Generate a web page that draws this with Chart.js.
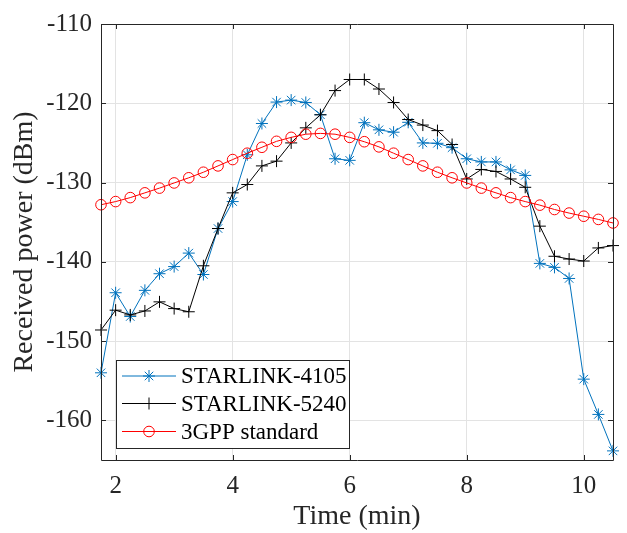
<!DOCTYPE html>
<html>
<head>
<meta charset="utf-8">
<script src="https://cdn.jsdelivr.net/npm/chart.js@4/dist/chart.umd.min.js"></script>
<style>
  html, body { margin: 0; padding: 0; background: #fff; }
  #wrap { width: 627px; height: 533px; }
</style>
</head>
<body>
<div id="wrap"><canvas id="rxChart" width="627" height="533"></canvas></div>
<script>
// time axis (min), one sample every 15 s
const timeMin = [1.75, 2.0, 2.25, 2.5, 2.75, 3.0, 3.25, 3.5, 3.75, 4.0, 4.25, 4.5,
  4.75, 5.0, 5.25, 5.5, 5.75, 6.0, 6.25, 6.5, 6.75, 7.0, 7.25, 7.5,
  7.75, 8.0, 8.25, 8.5, 8.75, 9.0, 9.25, 9.5, 9.75, 10.0, 10.25, 10.5];

const starlink4105 = [-154.0, -143.9, -146.9, -143.6, -141.5, -140.6, -138.9, -141.6, -135.8, -132.4, -126.5, -122.55,
  -119.85, -119.6, -119.9, -121.45, -127.0, -127.2, -122.45, -123.35, -123.65, -122.4, -125.0, -125.05,
  -125.6, -127.0, -127.4, -127.4, -128.4, -129.1, -140.2, -140.7, -142.1, -154.8, -159.25, -163.85];

const starlink5240 = [-148.6, -146.1, -146.7, -146.2, -145.05, -145.9, -146.3, -140.5, -135.8, -131.3, -130.25, -127.9,
  -127.3, -125.0, -123.1, -121.45, -118.4, -117.0, -117.0, -118.2, -119.9, -122.05, -122.75, -123.45,
  -125.2, -129.55, -128.35, -128.6, -129.55, -130.6, -135.5, -139.3, -139.65, -139.9, -138.25, -137.95];

const gppStandard = [-132.8, -132.4, -131.9, -131.3, -130.7, -130.05, -129.4, -128.7, -127.9, -127.1, -126.3, -125.55,
  -124.8, -124.3, -123.9, -123.8, -123.9, -124.3, -124.85, -125.5, -126.3, -127.1, -127.9, -128.7,
  -129.4, -130.05, -130.7, -131.3, -131.9, -132.4, -132.85, -133.4, -133.85, -134.25, -134.65, -135.1];

const seriesNames = ['STARLINK-4105', 'STARLINK-5240', '3GPP standard'];
const xTicks = [2, 4, 6, 8, 10];
const yTicks = [-160, -150, -140, -130, -120, -110];

const SERIF = "'Liberation Serif', 'Times New Roman', serif";
const AXIS_COLOR = '#262626';
const GRID_COLOR = '#e3e3e3';

Chart.defaults.font.family = SERIF;
Chart.defaults.color = AXIS_COLOR;

const toPts = arr => arr.map((v, i) => ({ x: timeMin[i], y: v }));

function drawMarker(ctx, style, x, y, r) {
    ctx.beginPath();
    if (style === 'circle') {
        ctx.arc(x, y, r, 0, Math.PI * 2);
    } else {
        ctx.moveTo(x - r, y); ctx.lineTo(x + r, y);
        ctx.moveTo(x, y - r); ctx.lineTo(x, y + r);
        if (style === 'star') {
            const d = r * Math.cos(Math.PI / 4);
            ctx.moveTo(x - d, y - d); ctx.lineTo(x + d, y + d);
            ctx.moveTo(x - d, y + d); ctx.lineTo(x + d, y - d);
        }
    }
    ctx.stroke();
}

// matlab-ish box with inward ticks + legend inside the axes
const axesBox = {
    id: 'axesBox',
    afterDatasetsDraw(chart) {
        const { ctx, chartArea: a, scales } = chart;
        const tl = 5;
        ctx.save();
        ctx.strokeStyle = AXIS_COLOR;
        ctx.lineWidth = 1;
        ctx.beginPath();
        ctx.rect(Math.round(a.left) + 0.5, Math.round(a.top) + 0.5, Math.round(a.right - a.left), Math.round(a.bottom - a.top));
        xTicks.forEach(v => {
            const px = Math.round(scales.x.getPixelForValue(v)) + 0.5;
            ctx.moveTo(px, a.bottom); ctx.lineTo(px, a.bottom - tl);
            ctx.moveTo(px, a.top); ctx.lineTo(px, a.top + tl);
        });
        yTicks.forEach(v => {
            const py = Math.round(scales.y.getPixelForValue(v)) + 0.5;
            ctx.moveTo(a.left, py); ctx.lineTo(a.left + tl, py);
            ctx.moveTo(a.right, py); ctx.lineTo(a.right - tl, py);
        });
        ctx.stroke();
        ctx.restore();
    },
    afterDraw(chart) {
        const { ctx } = chart;
        const bx = 116.5, by = 360.5, bw = 233, bh = 88;
        const rows = [376, 403.5, 431.5];
        ctx.save();
        ctx.fillStyle = '#fff';
        ctx.fillRect(bx, by, bw, bh);
        ctx.strokeStyle = AXIS_COLOR;
        ctx.lineWidth = 1;
        ctx.strokeRect(bx, by, bw, bh);
        ctx.font = `23px ${SERIF}`;
        ctx.textBaseline = 'middle';
        ctx.textAlign = 'left';
        chart.data.datasets.forEach((ds, i) => {
            const y = rows[i];
            ctx.strokeStyle = ds.borderColor;
            ctx.lineWidth = 1;
            ctx.beginPath();
            ctx.moveTo(122, y); ctx.lineTo(176, y);
            ctx.stroke();
            drawMarker(ctx, ds.pointStyle, 149, y, ds.pointRadius);
            ctx.fillStyle = '#000';
            ctx.fillText(ds.label, 181, y + 1);
        });
        ctx.restore();
    }
};

const ctx = document.getElementById('rxChart').getContext('2d');
new Chart(ctx, {
    type: 'line',
    data: {
        datasets: [
            {
                label: seriesNames[0],
                data: toPts(starlink4105),
                borderColor: '#0072BD',
                backgroundColor: 'transparent',
                borderWidth: 1,
                pointStyle: 'star',
                pointRadius: 6,
                pointBorderColor: '#0072BD',
                pointBorderWidth: 1,
                tension: 0,
                clip: false,
                order: 3
            },
            {
                label: seriesNames[1],
                data: toPts(starlink5240),
                borderColor: '#000000',
                backgroundColor: 'transparent',
                borderWidth: 1,
                pointStyle: 'cross',
                pointRadius: 6,
                pointBorderColor: '#000000',
                pointBorderWidth: 1,
                tension: 0,
                clip: false,
                order: 2
            },
            {
                label: seriesNames[2],
                data: toPts(gppStandard),
                borderColor: '#FF0000',
                backgroundColor: 'transparent',
                borderWidth: 1,
                pointStyle: 'circle',
                pointRadius: 5.3,
                pointBorderColor: '#FF0000',
                pointBackgroundColor: 'transparent',
                pointBorderWidth: 1,
                tension: 0,
                clip: false,
                order: 1
            }
        ]
    },
    options: {
        responsive: false,
        animation: false,
        devicePixelRatio: 1,
        layout: { padding: { left: 0, right: 14, top: 8, bottom: 0 } },
        plugins: {
            legend: { display: false },
            tooltip: { enabled: false }
        },
        scales: {
            x: {
                type: 'linear',
                min: 1.75,
                max: 10.5,
                afterBuildTicks: s => { s.ticks = xTicks.map(v => ({ value: v })); },
                afterFit: s => { s.height = 73; },
                grid: { color: GRID_COLOR, drawTicks: false },
                border: { display: false },
                ticks: { font: { size: 25 }, color: AXIS_COLOR, padding: 11, maxRotation: 0 },
                title: { display: true, text: 'Time (min)', font: { size: 28 }, color: AXIS_COLOR, padding: { top: 0, bottom: 0 } }
            },
            y: {
                min: -165,
                max: -110,
                afterBuildTicks: s => { s.ticks = yTicks.map(v => ({ value: v })); },
                afterFit: s => { s.width = 101; },
                grid: { color: GRID_COLOR, drawTicks: false },
                border: { display: false },
                ticks: { font: { size: 25 }, color: AXIS_COLOR, padding: 9 },
                title: { display: true, text: 'Received power (dBm)', font: { size: 28 }, color: AXIS_COLOR, padding: { top: 8, bottom: 0 } }
            }
        }
    },
    plugins: [axesBox]
});
</script>
</body>
</html>
